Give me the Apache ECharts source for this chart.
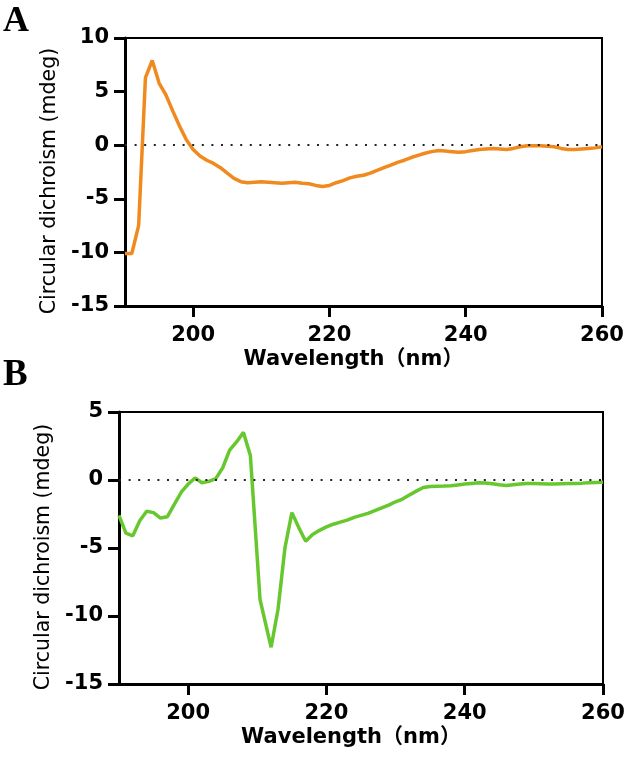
<!DOCTYPE html>
<html>
<head>
<meta charset="utf-8">
<script src="https://cdn.jsdelivr.net/npm/echarts@6/dist/echarts.min.js"></script>
<style>
  html, body { margin: 0; padding: 0; background: #fff; }
  #chart { width: 624px; height: 759px; }
</style>
</head>
<body>
<div id="chart"></div>
<script>
// panel A: wavelength (nm) and CD (mdeg)
const wavelengthA = [190,191,192,193,194,195,196,197,198,199,200,201,202,203,204,205,206,207,208,209,
  210,211,212,213,214,215,216,217,218,219,220,221,222,223,224,225,226,227,228,229,
  230,231,232,233,234,235,236,237,238,239,240,241,242,243,244,245,246,247,248,249,
  250,251,252,253,254,255,256,257,258,259,260]
const cdA = [-10.1,-10.1,-7.5,6.3,7.9,5.8,4.7,3.2,1.8,0.5,-0.4,-1.0,-1.4,-1.7,-2.1,-2.6,-3.1,-3.4,-3.5,-3.45,
  -3.4,-3.45,-3.5,-3.55,-3.5,-3.45,-3.55,-3.6,-3.75,-3.85,-3.75,-3.5,-3.3,-3.05,-2.9,-2.8,-2.6,-2.35,-2.1,-1.85,
  -1.6,-1.4,-1.15,-0.95,-0.75,-0.6,-0.5,-0.55,-0.6,-0.65,-0.6,-0.5,-0.4,-0.35,-0.3,-0.35,-0.4,-0.3,-0.15,-0.05,
  -0.05,-0.05,-0.1,-0.15,-0.3,-0.4,-0.4,-0.35,-0.3,-0.25,-0.15]

// panel B
const wavelengthB = [190,191,192,193,194,195,196,197,198,199,200,201,202,203,204,205,206,207,208,209,
  210.4,212,213,214,215,216,217,218,219,220,221,222,223,224,225,226,227,228,229,
  230,231,232,233,234,235,236,237,238,239,240,241,242,243,244,245,246,247,248,249,
  250,251,252,253,254,255,256,257,258,259,260]
const cdB = [-2.6,-3.9,-4.1,-3.0,-2.3,-2.4,-2.8,-2.7,-1.8,-0.9,-0.3,0.15,-0.2,-0.1,0.1,0.9,2.2,2.8,3.5,1.8,
  -8.8,-12.3,-9.5,-5.0,-2.4,-3.5,-4.5,-4.0,-3.7,-3.45,-3.25,-3.1,-2.95,-2.75,-2.6,-2.45,-2.25,-2.05,-1.85,
  -1.6,-1.4,-1.1,-0.82,-0.55,-0.48,-0.46,-0.45,-0.42,-0.36,-0.3,-0.25,-0.2,-0.22,-0.28,-0.35,-0.4,-0.35,-0.3,-0.26,
  -0.25,-0.27,-0.3,-0.3,-0.28,-0.26,-0.25,-0.23,-0.2,-0.18,-0.16]

const xTicks = [200, 220, 240, 260]
const yRangeA = [-15, 10]
const yRangeB = [-15, 5]

const FONT = 'DejaVu Sans, Noto Sans CJK SC, sans-serif'

const chart = echarts.init(document.getElementById('chart'), null, { renderer: 'canvas' })

function xAxisFor(gridIndex) {
  return {
    gridIndex,
    type: 'value',
    min: 190,
    max: 260,
    name: 'Wavelength（nm）',
    nameLocation: 'middle',
    nameGap: 43,
    nameTextStyle: { fontFamily: FONT, fontWeight: 'bold', fontSize: 21, color: '#000', padding: [0, 20, 0, 0] },
    axisLine: { onZero: false, lineStyle: { color: '#000', width: 3 } },
    axisTick: { customValues: xTicks, length: 11, lineStyle: { color: '#000', width: 3 } },
    axisLabel: { customValues: xTicks, margin: 19, fontFamily: FONT, fontWeight: 'bold', fontSize: 21, color: '#000' },
    splitLine: { show: false },
  }
}

function yAxisFor(gridIndex, range, gap) {
  return {
    gridIndex,
    type: 'value',
    min: range[0],
    max: range[1],
    interval: 5,
    name: 'Circular dichroism (mdeg)',
    nameLocation: 'middle',
    nameGap: gap,
    nameTextStyle: { fontFamily: FONT, fontSize: 20.5, color: '#000', padding: [0, 18, 0, 0] },
    axisLine: { lineStyle: { color: '#000', width: 3 } },
    axisTick: { length: 11, lineStyle: { color: '#000', width: 3 } },
    axisLabel: { margin: 16, fontFamily: FONT, fontWeight: 'bold', fontSize: 21, color: '#000' },
    splitLine: { show: false },
  }
}

function zeroLine() {
  return {
    silent: true,
    symbol: 'none',
    label: { show: false },
    lineStyle: { type: [2, 7.6], width: 2, color: '#222' },
    data: [{ yAxis: 0 }],
  }
}

chart.setOption({
  backgroundColor: '#fff',
  animation: false,
  grid: [
    { left: 125, top: 38, width: 477, height: 268, show: true, borderColor: '#000', borderWidth: 2, outerBoundsMode: 'none' },
    { left: 119, top: 412, width: 484, height: 272, show: true, borderColor: '#000', borderWidth: 2, outerBoundsMode: 'none' },
  ],
  xAxis: [xAxisFor(0), xAxisFor(1)],
  yAxis: [yAxisFor(0, yRangeA, 62), yAxisFor(1, yRangeB, 64)],
  graphic: [
    { type: 'text', left: 3, top: 4, style: { text: 'A', font: 'bold 36px "Liberation Serif", serif', fill: '#000' } },
    { type: 'text', left: 3, top: 357, style: { text: 'B', font: 'bold 37px "Liberation Serif", serif', fill: '#000' } },
  ],
  series: [
    {
      type: 'line',
      xAxisIndex: 0,
      yAxisIndex: 0,
      showSymbol: false,
      lineStyle: { color: '#f08a1f', width: 3.5 },
      data: wavelengthA.map((w, i) => [w, cdA[i]]),
      markLine: zeroLine(),
      z: 3,
    },
    {
      type: 'line',
      xAxisIndex: 1,
      yAxisIndex: 1,
      showSymbol: false,
      lineStyle: { color: '#66c82e', width: 3.5 },
      data: wavelengthB.map((w, i) => [w, cdB[i]]),
      markLine: zeroLine(),
      z: 3,
    },
  ],
})
</script>
</body>
</html>
